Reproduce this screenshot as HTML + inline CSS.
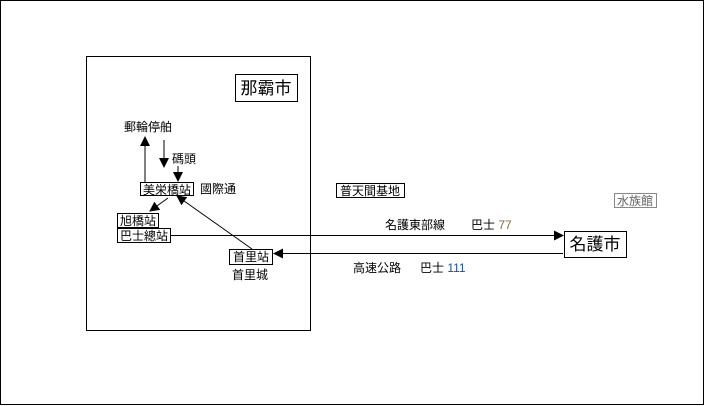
<!DOCTYPE html>
<html><head><meta charset="utf-8"><style>
html,body{margin:0;padding:0;background:#fff;width:705px;height:406px;overflow:hidden}
svg{display:block}
text{font-family:"Liberation Sans","Noto Sans CJK JP",sans-serif;font-size:12px;fill:#000}
.big{font-size:17px}
</style></head><body>
<svg width="705" height="406" viewBox="0 0 705 406" xmlns="http://www.w3.org/2000/svg">
<defs>
<marker id="a" markerWidth="10" markerHeight="10" refX="9" refY="5" orient="auto" markerUnits="userSpaceOnUse">
<path d="M0,0 L10,5 L0,10 z" fill="#000"/>
</marker>
</defs>
<rect x="0.5" y="0.5" width="703" height="404" fill="none" stroke="#000"/>
<rect x="86.5" y="56.5" width="224" height="274" fill="none" stroke="#000"/>

<rect x="235.5" y="74.5" width="62" height="27" fill="#fff" stroke="#000"/>
<text x="266" y="94" class="big" text-anchor="middle">那霸市</text>

<text x="148" y="131" text-anchor="middle">郵輪停舶</text>
<line x1="145" y1="182" x2="145" y2="137" stroke="#000" marker-end="url(#a)"/>
<line x1="164" y1="140" x2="164" y2="167" stroke="#000" marker-end="url(#a)"/>
<text x="172" y="163">碼頭</text>
<line x1="178" y1="166" x2="178" y2="181" stroke="#000" marker-end="url(#a)"/>

<rect x="140.5" y="182.5" width="53" height="13" fill="#fff" stroke="#000"/>
<text x="167" y="194" text-anchor="middle">美栄橋站</text>
<text x="200" y="193">國際通</text>

<line x1="168" y1="198" x2="150" y2="211" stroke="#000" marker-end="url(#a)"/>
<line x1="252" y1="249" x2="177" y2="196" stroke="#000" marker-end="url(#a)"/>

<rect x="117.5" y="213.5" width="41" height="14" fill="#fff" stroke="#000"/>
<text x="138" y="225" text-anchor="middle">旭橋站</text>
<rect x="117.5" y="228.5" width="53" height="14" fill="#fff" stroke="#000"/>
<text x="144" y="240" text-anchor="middle">巴士總站</text>

<rect x="229.5" y="249.5" width="43" height="15" fill="#fff" stroke="#000"/>
<text x="251" y="261" text-anchor="middle">首里站</text>
<text x="250" y="279" text-anchor="middle">首里城</text>

<line x1="171" y1="235.5" x2="563" y2="235.5" stroke="#000" marker-end="url(#a)"/>
<line x1="563" y1="253.5" x2="274" y2="253.5" stroke="#000" marker-end="url(#a)"/>

<rect x="564.5" y="231.5" width="62" height="26" fill="#fff" stroke="#000"/>
<text x="595" y="250" class="big" text-anchor="middle">名護市</text>

<rect x="336.5" y="183.5" width="68" height="14" fill="#fff" stroke="#000"/>
<text x="370" y="195" text-anchor="middle">普天間基地</text>

<rect x="614.5" y="193.5" width="42" height="14" fill="#fff" stroke="#888"/>
<text x="635" y="205" text-anchor="middle" style="fill:#666">水族館</text>

<text x="385" y="229">名護東部線</text>
<text x="471" y="229">巴士 <tspan style="fill:#8a6a40">77</tspan></text>
<text x="353" y="272">高速公路</text>
<text x="420" y="272">巴士 <tspan style="fill:#1a4fa0">111</tspan></text>
</svg>
</body></html>
